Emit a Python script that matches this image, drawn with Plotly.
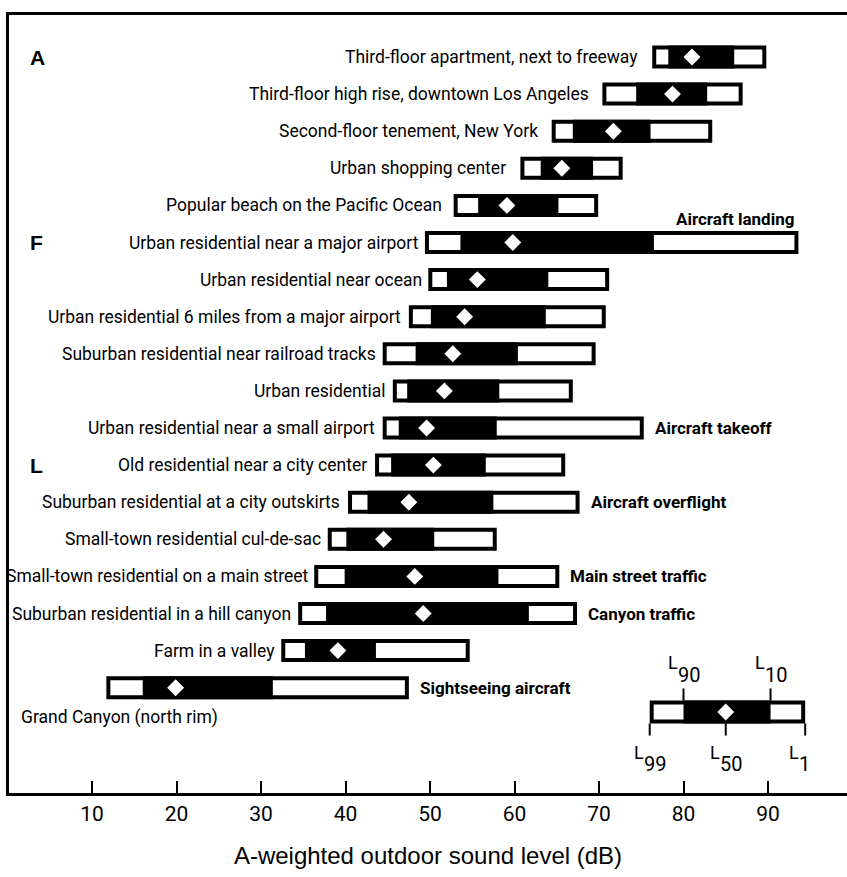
import plotly.graph_objects as go

# ---------------- data (dB, A-weighted) ----------------
locations = [
    "Third-floor apartment, next to freeway",
    "Third-floor high rise, downtown Los Angeles",
    "Second-floor tenement, New York",
    "Urban shopping center",
    "Popular beach on the Pacific Ocean",
    "Urban residential near a major airport",
    "Urban residential near ocean",
    "Urban residential 6 miles from a major airport",
    "Suburban residential near railroad tracks",
    "Urban residential",
    "Urban residential near a small airport",
    "Old residential near a city center",
    "Suburban residential at a city outskirts",
    "Small-town residential cul-de-sac",
    "Small-town residential on a main street",
    "Suburban residential in a hill canyon",
    "Farm in a valley",
    "Grand Canyon (north rim)",
]
L99 = [76.3, 70.4, 64.4, 60.7, 52.8, 49.4, 49.8, 47.5, 44.4, 45.6, 44.4, 43.5, 40.3, 37.9, 36.3, 34.4, 32.4, 11.7]
L90 = [78.2, 74.4, 66.9, 63.1, 55.7, 53.6, 52.0, 50.1, 48.3, 47.3, 46.3, 45.4, 42.6, 40.1, 39.9, 37.7, 35.2, 16.0]
L50 = [81.0, 78.7, 71.7, 65.6, 59.1, 59.8, 55.6, 54.1, 52.7, 51.7, 49.6, 50.4, 47.5, 44.5, 48.2, 49.2, 39.1, 19.9]
L10 = [86.0, 82.8, 76.1, 69.3, 65.2, 76.5, 64.0, 63.7, 60.4, 58.2, 57.9, 56.6, 57.5, 50.5, 58.1, 61.7, 43.6, 31.4]
L1 = [89.8, 87.0, 83.4, 72.8, 69.9, 93.6, 71.2, 70.8, 69.6, 66.9, 75.3, 66.0, 67.7, 57.9, 65.3, 67.4, 54.7, 47.5]

side_notes = {
    5: "Aircraft landing",
    10: "Aircraft takeoff",
    12: "Aircraft overflight",
    14: "Main street traffic",
    15: "Canyon traffic",
    17: "Sightseeing aircraft",
}
group_letters = {0: "A", 5: "F", 11: "L"}

# key (legend) bar
key_levels = {"99": 76.0, "90": 80.0, "50": 85.0, "10": 90.3, "1": 94.4}

x_tick_values = [10, 20, 30, 40, 50, 60, 70, 80, 90]
x_title = "A-weighted outdoor sound level (dB)"

# ---------------- layout constants ----------------
PX_PER_DB = 8.45
PX_PER_ROW = 37.1
W, H = 847, 877
M_L, M_R, M_T, M_B = 9, 0, 15, 84
X0_PX = 7.5  # pixel of 0 dB in full-image coordinates
x_range = [(M_L - X0_PX) / PX_PER_DB, (W - M_R - X0_PX) / PX_PER_DB]
ROW0_PX = 57
y_range = [(H - M_B - ROW0_PX) / PX_PER_ROW, (M_T - ROW0_PX) / PX_PER_ROW]

OUT_LW = 4
half_lw = (OUT_LW / 2) / PX_PER_DB
bar_w = 19 / PX_PER_ROW
half_h = 11.5 / PX_PER_ROW
tick_len = 12 / PX_PER_ROW
key_row = (712 - ROW0_PX) / PX_PER_ROW

LABEL_FONT = "Roboto, Liberation Sans, Arial, sans-serif"
SANS = "Liberation Sans, Arial, Helvetica, sans-serif"
label_gap_px = [12, 11, 12, 12, 10, 4, 4, 6, 5, 5, 6, 6, 6, 5, 3, 5, 4, 0]

rows = list(range(len(locations)))

fig = go.Figure()


def add_box(ys, lo, q90, q10, hi, med):
    fig.add_trace(go.Bar(
        orientation="h", y=ys,
        base=[a + half_lw for a in lo],
        x=[b - a - 2 * half_lw for a, b in zip(lo, hi)],
        width=bar_w,
        marker=dict(color="white", line=dict(color="black", width=OUT_LW)),
        hoverinfo="skip",
    ))
    fig.add_trace(go.Bar(
        orientation="h", y=ys,
        base=[a + half_lw for a in q90],
        x=[b - a - 2 * half_lw for a, b in zip(q90, q10)],
        width=bar_w,
        marker=dict(color="black", line=dict(color="black", width=OUT_LW)),
        hoverinfo="skip",
    ))
    fig.add_trace(go.Scatter(
        x=med, y=ys, mode="markers",
        marker=dict(symbol="diamond", size=13, color="white", line=dict(width=0)),
        hoverinfo="skip",
    ))


add_box(rows, L99, L90, L10, L1, L50)
add_box([key_row], [key_levels["99"]], [key_levels["90"]], [key_levels["10"]],
        [key_levels["1"]], [key_levels["50"]])

annotations = []
for i, name in enumerate(locations):
    if i == len(locations) - 1:
        annotations.append(dict(
            x=(19 - X0_PX) / PX_PER_DB, y=(717 - ROW0_PX) / PX_PER_ROW,
            text=name, xanchor="left", yanchor="middle", showarrow=False,
            font=dict(family=LABEL_FONT, size=17.5, color="black")))
    else:
        annotations.append(dict(
            x=L99[i], y=i, text=name, xanchor="right", yanchor="middle",
            xshift=-label_gap_px[i], showarrow=False,
            font=dict(family=LABEL_FONT, size=17.5, color="black")))

for i, note in side_notes.items():
    if i == 5:
        annotations.append(dict(
            x=L1[i], y=(219 - ROW0_PX) / PX_PER_ROW, text=note,
            xanchor="right", yanchor="middle", xshift=-2, showarrow=False,
            font=dict(family=LABEL_FONT, size=17, color="black", weight="bold")))
    else:
        annotations.append(dict(
            x=L1[i], y=i, text=note, xanchor="left", yanchor="middle",
            xshift=9, showarrow=False,
            font=dict(family=LABEL_FONT, size=17, color="black", weight="bold")))

for i, letter in group_letters.items():
    annotations.append(dict(
        x=(28 - X0_PX) / PX_PER_DB, y=i, text=letter, xanchor="left",
        yanchor="middle", showarrow=False,
        font=dict(family=SANS, size=21, color="black", weight="bold")))

# key labels: L with big subscript digits
shapes = []
for key, val in key_levels.items():
    above = key in ("90", "10")
    if above:
        y_l, y_d = (662 - ROW0_PX) / PX_PER_ROW, (675 - ROW0_PX) / PX_PER_ROW
        y0, y1 = key_row - half_h, key_row - half_h - tick_len
    else:
        y_l, y_d = (752 - ROW0_PX) / PX_PER_ROW, (764 - ROW0_PX) / PX_PER_ROW
        y0, y1 = key_row + half_h, key_row + half_h + tick_len
    annotations.append(dict(
        x=val, y=y_l, text="L", xanchor="right", yanchor="middle",
        xshift=-4, showarrow=False,
        font=dict(family=LABEL_FONT, size=18, color="black")))
    annotations.append(dict(
        x=val, y=y_d, text=key, xanchor="left", yanchor="middle",
        xshift=-8, showarrow=False,
        font=dict(family=LABEL_FONT, size=20, color="black")))
    shapes.append(dict(type="line", xref="x", yref="y", x0=val, x1=val,
                       y0=y0, y1=y1, line=dict(color="black", width=2)))

fig.update_layout(
    width=W, height=H,
    margin=dict(l=M_L, r=M_R, t=M_T, b=M_B, pad=0),
    paper_bgcolor="white", plot_bgcolor="white",
    showlegend=False, barmode="overlay",
    annotations=annotations, shapes=shapes,
    xaxis=dict(
        range=x_range, tickvals=x_tick_values, ticks="inside", ticklen=12,
        tickwidth=2, tickcolor="black", showgrid=False, zeroline=False,
        showline=True, linewidth=3, linecolor="black", mirror=True,
        tickfont=dict(family=LABEL_FONT, size=21, color="black"),
        title=dict(text=x_title, font=dict(family=SANS, size=24, color="black"),
                   standoff=22),
    ),
    yaxis=dict(
        range=y_range, showticklabels=False, ticks="", showgrid=False,
        zeroline=False, showline=True, linewidth=2.5, linecolor="black",
    ),
)

fig.write_html("out.html")
